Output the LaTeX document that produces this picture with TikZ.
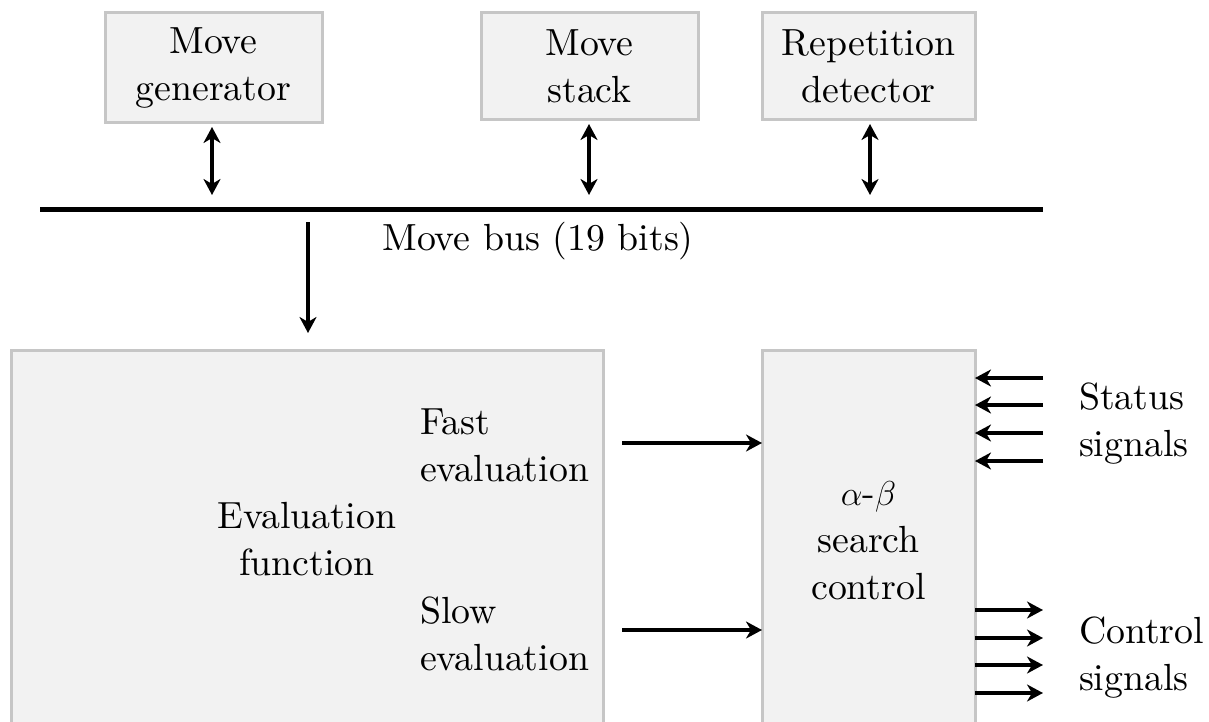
\documentclass[tikz,border=0pt]{standalone}
\usepackage{fontspec}
\setmainfont{lmroman10-regular.otf}[ItalicFont=lmroman10-italic.otf, BoldFont=lmroman10-bold.otf]
\usetikzlibrary{arrows.meta}
\definecolor{boxfill}{RGB}{242,242,242}
\definecolor{boxline}{RGB}{198,198,198}
\begin{document}
\begin{tikzpicture}[x=0.5pt,y=-0.5pt,
  every node/.style={font=\fontsize{18.9}{23.5}\selectfont, inner sep=0pt, outer sep=0pt},
  blk/.style={draw=boxline, fill=boxfill, line width=1.5pt, align=center},
  txt/.style={align=center},
  tip/.tip={Stealth[length=8pt,width=8.5pt,inset=2.5pt]},
  sig/.style={line width=2pt, -tip},
  dsig/.style={line width=2pt, tip-tip},
  bus/.style={line width=2.5pt}]
\path[use as bounding box, clip] (0,0) rectangle (1209,722);
\fill[white] (0,0) rectangle (1209,722);
% top boxes
\node[blk, minimum width=108.5pt, minimum height=55pt] (gen) at (213.5,68) {Move\\generator};
\node[blk, minimum width=108.5pt, minimum height=53.5pt] (stack) at (589.5,66.5) {Move\\stack};
\node[blk, minimum width=106.5pt, minimum height=53.5pt] (rep) at (868.5,66.5) {Repetition\\detector};
% bus
\coordinate (busL) at (40,209);
\coordinate (busR) at (1043,209);
\draw[bus] (busL) -- (busR);
\node[txt] (buslbl) at (538,241) {Move bus (19 bits)};
\coordinate (b1) at (212,195);
\coordinate (b2) at (589,195);
\coordinate (b3) at (870,195);
\draw[dsig, shorten <=2pt] (gen.south -| b1) -- (b1);
\draw[dsig, shorten <=2pt] (stack.south -| b2) -- (b2);
\draw[dsig, shorten <=2pt] (rep.south -| b3) -- (b3);
% lower boxes
\node[blk, minimum width=296pt, minimum height=205pt] (eval) at (307,555) {};
\node[blk, minimum width=106.5pt, minimum height=205pt] (search) at (868.5,555) {};
\coordinate (busdown) at (308,222);
\draw[sig, shorten >=8.5pt] (busdown) -- (busdown |- eval.north);
% texts in boxes
\node[txt] (evallbl) at (307,539) {Evaluation\\function};
\node[align=left, anchor=west] (fastlbl) at (420,445) {Fast\\evaluation};
\node[align=left, anchor=west] (slowlbl) at (420,634) {Slow\\evaluation};
\node[txt] (searchlbl) at (868.5,541) {$\alpha$-$\beta$\\search\\control};
% eval to search
\coordinate (fast) at (622,443);
\coordinate (slow) at (622,630);
\draw[sig] (fast) -- (fast -| search.west);
\draw[sig] (slow) -- (slow -| search.west);
% status signals
\foreach \y [count=\i] in {378,405,433,461} {
  \coordinate (s\i) at (1043,\y);
  \draw[sig] (s\i) -- (s\i -| search.east);
}
\foreach \y [count=\i] in {610,638,665,693} {
  \coordinate (c\i) at (1043,\y);
  \draw[sig] (c\i -| search.east) -- (c\i);
}
\node[align=left, anchor=west] (statuslbl) at (1079,424) {Status\\signals};
\node[align=left, anchor=west] (controllbl) at (1079,658) {Control\\signals};
\end{tikzpicture}
\end{document}
